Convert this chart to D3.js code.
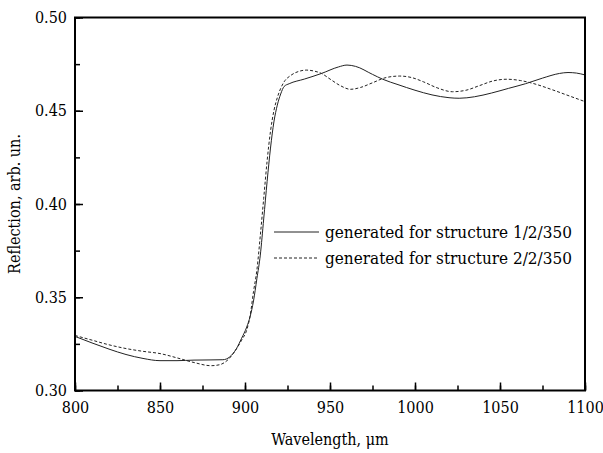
<!DOCTYPE html>
<html>
<head>
<meta charset="utf-8">
<script src="https://cdn.jsdelivr.net/npm/d3@7"></script>
<style>
  body { margin: 0; background: white; }
  svg text { font-stretch: condensed; }
</style>
</head>
<body>
<div id="chart"></div>
<script>
// Data
let wl1 = [800, 810, 820, 830, 840, 850, 860, 870, 880, 887, 891, 895, 898, 901, 903, 905, 907, 909, 911, 913, 915, 917, 919, 921, 923, 926, 935, 945, 955, 960, 965, 975, 981, 990, 1000, 1010, 1020, 1026, 1035, 1045, 1055, 1065, 1075, 1085, 1090, 1095, 1100]
let refl1 = [0.3290, 0.3255, 0.3222, 0.3193, 0.3172, 0.3160, 0.3160, 0.3163, 0.3164, 0.3165, 0.3180, 0.3225, 0.3280, 0.3340, 0.3396, 0.3480, 0.3600, 0.3726, 0.3920, 0.4120, 0.4300, 0.4440, 0.4530, 0.4590, 0.4630, 0.4645, 0.4670, 0.4700, 0.4735, 0.4745, 0.4738, 0.4695, 0.4669, 0.4640, 0.4610, 0.4585, 0.4570, 0.4567, 0.4575, 0.4595, 0.4620, 0.4645, 0.4675, 0.4700, 0.4705, 0.4702, 0.4692]

let wl2 = [800, 810, 820, 830, 840, 850, 860, 870, 880, 885, 890, 894, 898, 901, 903, 905, 907, 909, 911, 913, 915, 917, 919, 921, 923, 927, 932, 936, 941, 945, 950, 956, 962, 968, 975, 983, 991, 998, 1005, 1013, 1022, 1030, 1038, 1046, 1054, 1062, 1070, 1080, 1090, 1100]
let refl2 = [0.3295, 0.3270, 0.3245, 0.3225, 0.3210, 0.3198, 0.3175, 0.3150, 0.3133, 0.3138, 0.3165, 0.3210, 0.3270, 0.3324, 0.3400, 0.3530, 0.3646, 0.3830, 0.4030, 0.4230, 0.4390, 0.4500, 0.4570, 0.4620, 0.4655, 0.4690, 0.4712, 0.4718, 0.4712, 0.4700, 0.4670, 0.4635, 0.4615, 0.4625, 0.4650, 0.4678, 0.4686, 0.4678, 0.4655, 0.4623, 0.4602, 0.4610, 0.4635, 0.4660, 0.4669, 0.4662, 0.4645, 0.4615, 0.4582, 0.4549]

let xTicks = [800, 850, 900, 950, 1000, 1050, 1100]
let yTicks = [0.30, 0.35, 0.40, 0.45, 0.50]
let legendLabels = ['generated for structure 1/2/350', 'generated for structure 2/2/350']

// Liberation Serif is not picked up here, DejaVu Serif condensed is the closest to Times
let serif = '"DejaVu Serif Condensed", "DejaVu Serif", serif'

// Layout
let chart = {
  width: 603,
  height: 453,
  left: 75,
  right: 585,
  top: 17.5,
  bottom: 390.5
}

let svg = d3.select('#chart')
  .append('svg')
  .attr('width', chart.width)
  .attr('height', chart.height)
  .attr('font-family', serif)

let x = d3.scaleLinear().domain([800, 1100]).range([chart.left, chart.right])
let y = d3.scaleLinear().domain([0.30, 0.50]).range([chart.bottom, chart.top])

let line = d3.line()
  .x(d => x(d[0]))
  .y(d => y(d[1]))
  .curve(d3.curveMonotoneX)

let series1 = wl1.map((w, i) => [w, refl1[i]])
let series2 = wl2.map((w, i) => [w, refl2[i]])

svg.append('path')
  .attr('d', line(series1))
  .attr('fill', 'none')
  .attr('stroke', '#222')
  .attr('stroke-width', 1)

svg.append('path')
  .attr('d', line(series2))
  .attr('fill', 'none')
  .attr('stroke', '#222')
  .attr('stroke-width', 1)
  .attr('stroke-dasharray', '3,2')

// Axes: inward ticks, major + minor
let xAxis = svg.append('g')
  .attr('transform', `translate(0,${chart.bottom})`)
  .call(d3.axisBottom(x).tickValues(d3.range(800, 1101, 25)).tickSize(-5).tickFormat(''))
xAxis.call(g => g.append('g')
  .call(d3.axisBottom(x).tickValues(xTicks).tickSize(-8).tickPadding(11).tickFormat(d3.format('d'))))

let yAxis = svg.append('g')
  .attr('transform', `translate(${chart.left},0)`)
  .call(d3.axisLeft(y).tickValues(d3.range(0, 9).map(i => 0.30 + i * 0.025)).tickSize(-5).tickFormat(''))
yAxis.call(g => g.append('g')
  .call(d3.axisLeft(y).tickValues(yTicks).tickSize(-8).tickPadding(8).tickFormat(d3.format('.2f'))))

svg.selectAll('.domain').remove()
svg.selectAll('g').attr('font-family', serif).attr('font-size', 16)
svg.selectAll('.tick line').attr('stroke', 'black').attr('stroke-width', 1.5)
svg.selectAll('.tick text').attr('fill', 'black')

// Frame
svg.append('rect')
  .attr('x', chart.left)
  .attr('y', chart.top)
  .attr('width', chart.right - chart.left)
  .attr('height', chart.bottom - chart.top)
  .attr('fill', 'none')
  .attr('stroke', 'black')
  .attr('stroke-width', 2)

// Axis titles
svg.append('text')
  .attr('x', (chart.left + chart.right) / 2)
  .attr('y', 445)
  .attr('text-anchor', 'middle')
  .attr('font-size', 16)
  .text('Wavelength, μm')

svg.append('text')
  .attr('transform', `translate(20,${(chart.top + chart.bottom) / 2}) rotate(-90)`)
  .attr('text-anchor', 'middle')
  .attr('font-size', 16)
  .text('Reflection, arb. un.')

// Legend
let legend = svg.append('g').attr('transform', 'translate(274,232)')
legendLabels.forEach((label, i) => {
  legend.append('line')
    .attr('x1', 0).attr('x2', 45)
    .attr('y1', i * 26).attr('y2', i * 26)
    .attr('stroke', '#222')
    .attr('stroke-width', 1)
    .attr('stroke-dasharray', i === 1 ? '3,2' : null)
  legend.append('text')
    .attr('x', 51)
    .attr('y', i * 26 + 6)
    .attr('font-size', 17)
    .text(label)
})
</script>
</body>
</html>
